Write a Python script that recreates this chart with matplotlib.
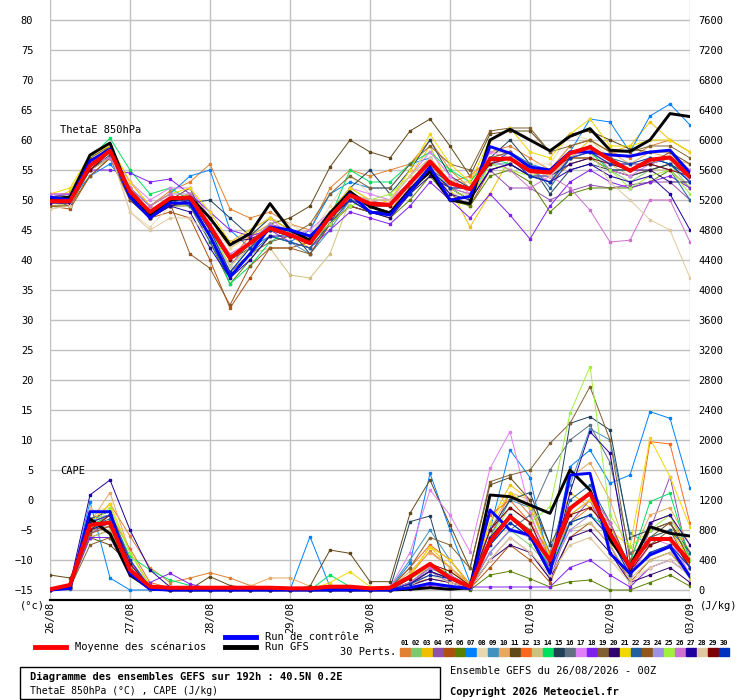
import matplotlib
matplotlib.use('Agg')
import matplotlib.pyplot as plt
from matplotlib.patches import Rectangle

# echéances (heures) et dates
heures = list(range(0, 193, 6))
jours = ['26/08', '27/08', '28/08', '29/08', '30/08', '31/08', '01/09', '02/09', '03/09']

couleurs = ['#e08030', '#80c870', '#f0c000', '#9050b0', '#b05010', '#5a8000', '#0080ff',
            '#e8d8b0', '#4090c0', '#e8a860', '#604818', '#f86820', '#d0c080', '#00e060',
            '#204058', '#607080', '#e080f8', '#8020f0', '#806030', '#300070', '#f0d800',
            '#2060a0', '#905820', '#a090e8', '#a0f040', '#d070d0', '#2000a0', '#e0c8a0',
            '#800000', '#0030c0']

# ThetaE 850hPa (°C)
theta_moy = [49.8, 49.8, 55.7, 58.2, 51.4, 48.0, 50.3, 50.4, 45.6, 40.3, 42.8, 45.3, 44.2, 42.8, 47.2, 50.8, 49.4,
             49.2, 52.8, 56.4, 52.8, 51.8, 56.8, 56.9, 54.8, 54.6, 57.8, 58.8, 56.7, 54.9, 56.7, 57.1, 53.8]
theta_ctl = [50.5, 50.0, 56.5, 58.5, 50.5, 47.0, 49.5, 49.5, 44.0, 37.2, 41.0, 45.5, 45.0, 44.0, 47.0, 51.0, 48.0,
             47.5, 51.5, 55.5, 50.0, 50.6, 58.9, 57.8, 55.5, 55.0, 58.0, 58.0, 57.5, 57.3, 58.0, 58.3, 54.5]
theta_gfs = [50.2, 50.5, 57.5, 59.5, 51.0, 47.5, 50.0, 50.5, 47.0, 42.5, 44.4, 49.4, 45.0, 43.3, 47.8, 51.4, 48.9,
             47.8, 51.7, 54.7, 50.0, 49.4, 60.0, 61.8, 60.0, 58.2, 60.6, 61.9, 58.3, 58.1, 60.0, 64.4, 63.9]
theta_perts = [
    [50.5, 51, 56, 59, 53, 49, 51.5, 53, 56, 48.5, 47, 48, 46, 45, 52, 55, 54, 55, 56, 60, 55, 52, 58, 59, 57, 55, 59, 60, 58, 57, 59, 60, 58],
    [49.5, 50, 55, 58, 51, 48, 50, 51, 45, 39, 42, 45, 44, 43, 48, 52, 50, 49, 53, 56, 52, 50, 56, 57, 55, 53, 58, 58, 55, 53, 55, 56, 52],
    [50, 51.5, 57, 59, 52, 48, 50, 51, 47, 42, 44, 46, 44, 42, 46, 51, 49, 50, 54, 59, 52, 45.5, 51, 57, 56, 54, 57, 60, 58, 59, 63, 60, 58],
    [51, 51, 55, 57, 52, 49, 51, 49, 44, 39, 43, 46, 45, 44, 47, 50, 49, 48, 52, 55, 52, 50, 55, 52, 52, 50, 51.5, 52.5, 52, 52.5, 53, 53, 50],
    [49, 48.5, 54, 57, 50, 47, 48, 47, 40, 32, 37, 42, 42, 43, 46, 50, 48, 48, 52, 55, 51, 49, 55, 56, 54, 53, 56, 57, 55, 54, 55, 56, 53],
    [49, 49, 55, 57, 51, 47, 49, 49, 43, 36, 40, 44, 43, 42, 46, 49, 48, 47, 50, 54, 50, 49, 54, 55, 53, 48, 51, 52, 52, 52, 53, 55, 52],
    [50, 50, 54, 56, 52, 49, 51, 54, 55, 45, 42, 44, 43, 45, 51, 53, 52, 52, 56, 57, 53, 52, 57, 58, 56, 55, 58, 63.5, 63, 58, 64, 66, 62.5],
    [48.5, 49, 56, 59, 48, 45.5, 49, 50, 46, 42, 44, 47, 46, 44, 49, 54, 51, 50, 55, 58, 54, 52, 57, 58, 56, 56, 61, 60, 57, 56, 57, 57, 55],
    [50, 50, 56, 58, 51, 48, 50, 51, 45, 38, 42, 44, 43, 41, 45, 50, 48, 48, 52, 55, 52, 51, 56, 56, 54, 54, 58, 58, 56, 55, 57, 56, 53],
    [50, 50.5, 55, 57, 51, 48, 50, 51, 47, 43, 44, 46, 44, 43, 47, 50, 49, 49, 53, 57, 53, 53, 58, 58, 55, 55, 59, 60, 58, 56, 58, 57, 56],
    [50, 49, 56, 59, 51, 48, 50, 52, 45, 40, 42, 46, 47, 49, 55.5, 60, 58, 57, 61.5, 63.5, 59, 54, 61, 61.5, 61.5, 58, 61, 61.5, 60, 58.5, 58, 58, 56],
    [49.5, 50, 55, 58, 52, 48, 49, 50, 45, 40, 44, 45, 45, 43, 47, 50, 49, 48, 53, 56, 53, 54, 57, 57, 55, 54, 57, 58, 56, 56, 56, 57, 55],
    [49, 49.5, 55, 57, 50, 47, 49, 49, 43, 38, 41, 42, 37.5, 37, 41, 50, 48, 48, 52, 56, 51, 51, 55, 56, 54, 53, 57, 58, 56, 54, 55, 55, 52],
    [50.5, 51, 57, 60.3, 55, 51, 52, 50, 44, 36, 39, 43, 45, 44, 47, 55, 53, 53, 56, 58, 55, 53, 57, 56, 54, 53, 57, 58, 55, 55, 57, 56, 54],
    [49.5, 49.5, 55, 57.5, 50, 47, 49, 49.5, 50, 47, 44, 47, 45, 41, 46, 52, 55, 51, 55, 60, 54, 52, 57, 60, 56, 51, 55, 56, 55, 54, 55, 56, 54],
    [50, 50, 56, 58, 52, 48, 50, 50, 45, 40, 43, 45, 44, 43, 47, 51, 49, 49, 53, 56, 53, 52, 57, 57, 55, 55, 58, 58, 57, 55, 56, 57, 55],
    [51, 51, 56, 58, 53, 50, 52, 52, 47, 43, 45, 47, 44, 45, 48, 52, 51, 50, 54, 58, 54, 51, 58, 57, 55, 53, 57, 59, 55, 54, 56, 58, 55],
    [50.5, 51, 55, 55, 54.5, 53, 53.5, 51, 48, 45, 44, 45, 43, 42, 45, 48, 47, 46, 49, 53, 50, 47, 51, 47.5, 43.5, 49, 53, 55, 53, 52, 53, 54, 52],
    [50, 50, 57, 59, 51, 48, 50, 50, 44, 38, 41, 43, 44, 46, 51, 54, 52, 52, 56, 59, 56, 55, 61.5, 62, 62, 58, 59, 60, 58, 58, 59, 59, 57],
    [50, 49.5, 56, 58, 51, 47, 49, 50, 47, 43, 43.5, 45, 44, 43, 46, 49, 48, 47, 51, 54, 52, 50, 55, 56, 54, 54, 56, 57, 55, 55, 55, 53, 53],
    [51, 52, 57.5, 59, 53, 49, 51, 52, 48, 43, 45, 47, 45, 44, 48, 52, 50, 50, 55, 61, 56, 53, 60, 62, 58, 57, 61, 63.5, 59, 59, 60, 60, 58],
    [50, 50, 56, 58, 51, 48, 50, 49, 43, 37, 41, 44, 43, 42, 46, 50, 49, 48, 52, 55, 53, 52, 56, 58, 56, 52, 57, 58, 57, 56, 56, 55, 50],
    [49, 49, 54, 57, 50, 48, 49.5, 41, 38.6, 32.5, 39, 42, 42, 41, 46, 49, 48, 48, 52, 55, 52, 52, 57, 58, 55, 55, 58, 59, 57, 55, 56, 58, 54],
    [50, 50, 56, 57, 51, 48, 50, 50, 45, 40, 43, 46, 44, 44, 48, 51, 50, 50, 53, 56, 53, 52, 56, 57, 54, 54, 57, 58, 56, 56, 56, 57, 53],
    [50, 50, 56, 58, 51, 47, 50, 51, 45, 39, 42, 45, 44, 43, 46, 49, 50, 51, 54, 57, 52, 50, 56, 55, 54, 55, 57, 57, 55, 52, 54, 55, 51],
    [51, 51, 56, 57, 52, 49, 51, 51, 46, 41, 43, 45, 44, 43, 47, 51, 50, 49, 53, 57, 52, 51, 57, 55, 52, 54, 52, 48.3, 43, 43.3, 50, 50, 43],
    [49.5, 49.5, 56, 58, 51, 47, 49, 48, 42, 37, 40, 44, 44, 43, 47, 50, 48, 48, 51, 55, 51, 50, 55, 56, 54, 53, 55, 56, 54, 53, 54, 51, 45],
    [48.5, 49, 56, 58, 48, 45, 47, 47, 44, 39, 42, 45, 44, 43, 47, 51, 50, 50, 54, 57, 53, 52, 57, 57, 55, 54, 57, 58, 53, 50, 46.7, 45, 37],
    [50, 50, 55, 58, 51, 48, 50, 50, 45, 40, 43, 45, 44, 43, 47, 51, 49, 49, 53, 56, 53, 52, 56, 57, 55, 55, 57, 57, 56, 55, 56, 55, 54],
    [50, 50, 56, 58, 51, 48, 50, 50, 45, 38, 42, 45, 45, 44, 47, 50, 48, 48, 51, 55, 52, 52, 57, 57, 54, 53, 57, 58, 56, 56, 57, 56, 53],
]

# CAPE (J/kg)
cape_moy = [10, 67, 867, 898, 267, 44, 30, 30, 30, 30, 30, 30, 22, 22, 44, 44, 22, 30, 178, 347, 160, 44,
            644, 978, 756, 400, 1089, 1289, 756, 311, 680, 680, 378]
cape_ctl = [0, 20, 1044, 1044, 222, 10, 0, 0, 0, 0, 0, 0, 0, 0, 0, 0, 0, 0, 30, 89, 50, 20,
            1067, 800, 733, 222, 1533, 1556, 489, 222, 467, 578, 178]
cape_gfs = [0, 40, 950, 750, 200, 20, 0, 0, 0, 0, 0, 0, 0, 0, 0, 0, 0, 0, 10, 30, 10, 30,
            1267, 1244, 1133, 1022, 1600, 1333, 667, 311, 844, 756, 720]
cape_perts = [
    [20, 60, 850, 1150, 720, 300, 100, 160, 230, 160, 60, 20, 10, 20, 60, 40, 20, 30, 200, 520, 300, 80, 700, 1300, 1000, 400, 900, 1100, 900, 300, 900, 1000, 500],
    [0, 40, 800, 950, 350, 40, 20, 10, 0, 0, 0, 0, 0, 0, 30, 20, 0, 20, 150, 300, 150, 20, 500, 800, 600, 300, 1000, 1200, 700, 200, 500, 600, 300],
    [10, 70, 900, 1000, 300, 30, 10, 0, 0, 0, 0, 0, 0, 10, 20, 10, 0, 20, 200, 578, 300, 40, 900, 1400, 1200, 450, 1300, 1100, 800, 250, 700, 800, 400],
    [20, 60, 750, 900, 250, 30, 0, 0, 0, 0, 0, 0, 0, 0, 10, 0, 0, 10, 100, 250, 100, 30, 400, 700, 500, 150, 900, 1200, 600, 150, 800, 1511, 311],
    [0, 50, 800, 850, 300, 20, 0, 0, 0, 0, 0, 0, 0, 0, 10, 0, 0, 10, 80, 150, 100, 20, 300, 600, 400, 100, 700, 900, 600, 100, 400, 500, 200],
    [0, 30, 700, 800, 250, 20, 0, 0, 0, 0, 0, 0, 0, 0, 0, 0, 0, 0, 40, 80, 50, 0, 200, 250, 150, 40, 111, 133, 0, 0, 100, 200, 50],
    [0, 20, 1178, 160, 0, 0, 0, 0, 0, 0, 0, 0, 0, 711, 44, 0, 0, 20, 356, 1556, 800, 100, 800, 1867, 1500, 300, 1644, 1867, 1422, 1533, 2378, 2289, 1356],
    [20, 80, 1050, 1100, 400, 50, 20, 10, 0, 0, 0, 0, 0, 0, 20, 0, 0, 0, 50, 150, 100, 30, 400, 700, 500, 200, 600, 700, 400, 150, 300, 400, 200],
    [10, 50, 950, 1000, 350, 40, 10, 0, 0, 0, 0, 0, 0, 0, 10, 0, 0, 30, 400, 800, 400, 60, 700, 1200, 1100, 500, 1400, 2150, 2000, 756, 600, 700, 300],
    [10, 60, 900, 1300, 500, 60, 20, 0, 0, 0, 50, 160, 160, 50, 20, 0, 0, 20, 250, 500, 300, 50, 800, 1300, 1200, 400, 1500, 1700, 1200, 400, 1000, 1100, 600],
    [200, 160, 700, 600, 350, 50, 20, 10, 178, 60, 20, 0, 0, 50, 533, 489, 111, 111, 1022, 1467, 867, 289, 1400, 1500, 1200, 600, 1100, 1300, 800, 300, 700, 900, 500],
    [10, 40, 850, 1000, 550, 100, 30, 0, 0, 0, 0, 0, 0, 0, 30, 0, 0, 30, 300, 600, 400, 80, 1000, 1200, 900, 500, 900, 1000, 700, 300, 1978, 1947, 889],
    [0, 30, 700, 800, 300, 20, 0, 0, 0, 0, 0, 0, 0, 0, 20, 0, 0, 0, 100, 200, 150, 40, 600, 900, 700, 300, 800, 900, 600, 150, 400, 500, 150],
    [0, 40, 850, 1000, 450, 267, 133, 60, 0, 0, 0, 0, 0, 0, 200, 44, 0, 20, 200, 350, 200, 40, 700, 1000, 800, 300, 900, 1000, 800, 350, 1178, 1289, 400],
    [10, 50, 950, 1050, 400, 30, 0, 0, 0, 0, 0, 0, 0, 0, 10, 0, 0, 20, 911, 987, 44, 20, 800, 1200, 1300, 600, 2222, 2311, 2133, 700, 800, 900, 400],
    [0, 40, 800, 900, 300, 30, 0, 0, 0, 0, 0, 0, 0, 0, 0, 0, 0, 0, 100, 250, 150, 40, 500, 800, 1000, 1600, 2000, 2200, 1700, 500, 600, 700, 300],
    [20, 60, 900, 1000, 400, 50, 0, 0, 0, 0, 0, 0, 0, 0, 0, 20, 20, 30, 500, 1333, 1000, 511, 1622, 2111, 1044, 300, 1000, 1200, 700, 250, 700, 600, 400],
    [10, 40, 700, 700, 200, 100, 222, 80, 20, 0, 0, 0, 0, 10, 0, 0, 0, 0, 20, 60, 40, 40, 40, 40, 40, 40, 300, 400, 200, 40, 300, 400, 200],
    [0, 30, 600, 700, 250, 20, 0, 0, 0, 0, 0, 0, 0, 0, 20, 0, 0, 20, 300, 700, 600, 289, 1444, 1533, 1600, 1956, 2222, 2711, 2000, 400, 600, 800, 300],
    [0, 30, 800, 900, 300, 20, 0, 0, 0, 0, 0, 0, 0, 0, 0, 0, 0, 0, 60, 150, 100, 30, 400, 600, 500, 150, 700, 800, 500, 100, 200, 300, 100],
    [0, 50, 900, 1150, 500, 40, 10, 0, 0, 0, 0, 0, 0, 0, 100, 244, 44, 20, 200, 578, 400, 60, 900, 1300, 1100, 450, 1000, 1200, 800, 578, 2022, 1511, 844],
    [0, 40, 850, 950, 350, 30, 0, 0, 0, 0, 0, 0, 0, 0, 0, 0, 0, 0, 100, 300, 200, 50, 600, 900, 700, 300, 1200, 1400, 900, 300, 700, 800, 500],
    [0, 30, 750, 850, 300, 20, 0, 0, 0, 0, 0, 0, 0, 0, 0, 0, 0, 0, 80, 250, 150, 40, 700, 1000, 800, 350, 1100, 1300, 900, 300, 800, 900, 400],
    [10, 50, 800, 1000, 350, 40, 0, 0, 0, 0, 0, 0, 0, 0, 0, 0, 0, 0, 100, 280, 200, 50, 500, 800, 700, 250, 800, 1000, 700, 200, 500, 600, 300],
    [0, 40, 850, 1100, 500, 60, 0, 0, 0, 0, 0, 0, 0, 0, 0, 0, 0, 0, 150, 300, 250, 50, 700, 1100, 900, 1111, 2356, 2978, 1000, 578, 800, 1000, 400],
    [20, 60, 900, 1000, 400, 40, 0, 0, 0, 0, 0, 0, 0, 0, 0, 0, 0, 0, 100, 300, 200, 50, 800, 1100, 900, 300, 1100, 1300, 900, 200, 600, 700, 200],
    [0, 80, 1267, 1467, 800, 267, 40, 0, 0, 0, 0, 0, 0, 0, 0, 0, 0, 0, 80, 250, 150, 40, 700, 1000, 700, 200, 1300, 2111, 1822, 222, 900, 1000, 600],
    [0, 50, 1100, 900, 300, 20, 0, 0, 0, 0, 0, 0, 0, 0, 0, 0, 0, 0, 60, 200, 100, 30, 400, 700, 500, 200, 600, 700, 400, 100, 300, 400, 200],
    [0, 40, 800, 1000, 350, 30, 0, 0, 0, 0, 0, 0, 0, 0, 0, 0, 0, 0, 150, 350, 250, 60, 800, 1100, 900, 350, 1000, 1100, 800, 250, 600, 700, 300],
    [0, 30, 900, 1000, 400, 30, 0, 0, 0, 0, 0, 0, 0, 0, 0, 0, 0, 0, 80, 200, 150, 40, 600, 900, 700, 250, 900, 1000, 700, 200, 500, 600, 300],
]

W, H = 740, 700
police = 'DejaVu Sans Mono'
plt.rcParams['font.family'] = police

fig = plt.figure(figsize=(W / 100, H / 100), dpi=100)
ax = fig.add_axes([50 / W, 100 / H, 640 / W, 600 / H])
ymin, ymax = -15 - 10 / 6, 80 + 20 / 6
ax.set_xlim(0, 192)
ax.set_ylim(ymin, ymax)
ax2 = ax.twinx()
ax2.set_ylim((ymin + 15) * 80, (ymax + 15) * 80)

# grille
ax.set_yticks(range(-15, 81, 5))
ax.set_xticks(range(0, 193, 24))
ax.grid(True, color='#c0c0c0', lw=1.0)
ax.set_axisbelow(True)
ax.tick_params(length=0, labelsize=7.5, pad=12)
ax.set_xticklabels(jours, rotation=90)
ax.tick_params(axis='x', pad=1)
ax2.set_yticks(range(0, 7601, 400))
ax2.tick_params(length=0, labelsize=7.5, pad=6)
for a in (ax, ax2):
    for s in ['top', 'left', 'right']:
        a.spines[s].set_visible(False)
    a.spines['bottom'].set_color('black')
    a.spines['bottom'].set_linewidth(1.5)

# perturbations
for k in range(30):
    ax.plot(heures, theta_perts[k], color=couleurs[k], lw=0.7, marker='s', ms=1.5)
    ax2.plot(heures, cape_perts[k], color=couleurs[k], lw=0.7, marker='s', ms=1.5)

ax.plot(heures, theta_gfs, color='black', lw=2.1)
ax.plot(heures, theta_ctl, color='#0000ff', lw=2.1)
ax.plot(heures, theta_moy, color='#ff0000', lw=2.9)
ax2.plot(heures, cape_gfs, color='black', lw=2.1)
ax2.plot(heures, cape_ctl, color='#0000ff', lw=2.1)
ax2.plot(heures, cape_moy, color='#ff0000', lw=2.9)

ax.text(3, 61.7, 'ThetaE 850hPa', fontsize=7.5, va='center')
ax.text(3, 4.8, 'CAPE', fontsize=7.5, va='center')

def fx(x):
    return x / W

def fy(y):
    return 1 - y / H

fig.text(fx(20), fy(606), '(°c)', fontsize=7.5, va='center')
fig.text(fx(700), fy(606), '(J/kg)', fontsize=7.5, va='center')

# légende
fig.add_artist(plt.Line2D([fx(35), fx(66)], [fy(647), fy(647)], color='#ff0000', lw=3.5))
fig.text(fx(75), fy(647), 'Moyenne des scénarios', fontsize=7.5, va='center')
fig.add_artist(plt.Line2D([fx(225), fx(256)], [fy(637), fy(637)], color='#0000ff', lw=3.5))
fig.text(fx(265), fy(637), 'Run de contrôle', fontsize=7.5, va='center')
fig.add_artist(plt.Line2D([fx(225), fx(256)], [fy(647), fy(647)], color='black', lw=3.5))
fig.text(fx(265), fy(647), 'Run GFS', fontsize=7.5, va='center')
fig.text(fx(340), fy(652), '30 Perts.', fontsize=7.5, va='center')
for k in range(30):
    x0 = 400 + 11 * k
    fig.text(fx(x0 + 5), fy(643), '%02d' % (k + 1), fontsize=5, ha='center', va='center',
             fontweight='bold')
    fig.add_artist(Rectangle((fx(x0), fy(656)), 10 / W, 8 / H, color=couleurs[k]))

# cadre titre
fig.add_artist(Rectangle((fx(20), fy(699)), 420 / W, 32 / H, fill=False, ec='black', lw=1))
fig.text(fx(30), fy(677), 'Diagramme des ensembles GEFS sur 192h : 40.5N 0.2E', fontsize=7.5,
         fontweight='bold', va='center')
fig.text(fx(30), fy(691), 'ThetaE 850hPa (°C) , CAPE (J/kg)', fontsize=7, va='center')
fig.text(fx(450), fy(671), 'Ensemble GEFS du 26/08/2026 - 00Z', fontsize=7.5, va='center')
fig.text(fx(450), fy(692), 'Copyright 2026 Meteociel.fr', fontsize=7.5, fontweight='bold', va='center')

fig.savefig('out.png', dpi=100)
